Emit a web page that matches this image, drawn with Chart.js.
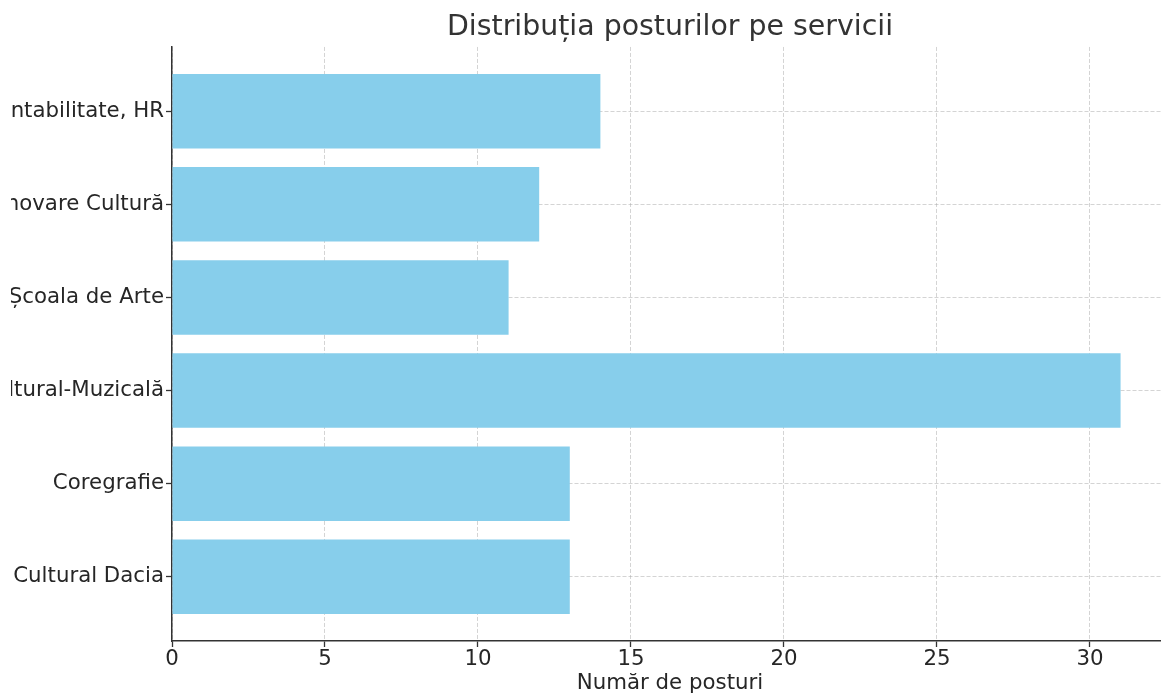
<!DOCTYPE html>
<html>
<head>
<meta charset="utf-8">
<title>Distribuția posturilor pe servicii</title>
<script src="https://cdn.jsdelivr.net/npm/chart.js@4.4.1/dist/chart.umd.min.js"></script>
<style>
    html, body { margin: 0; padding: 0; background: #fff; overflow: hidden; }
    #pagina { position: relative; width: 1161px; height: 695px; overflow: hidden; }
    #cutie { position: absolute; left: 11px; top: 0; width: 1157px; height: 695px; }
</style>
</head>
<body>
<div id="pagina">
    <div id="cutie"><canvas id="grafic"></canvas></div>
</div>
<script>
// servicii de sus in jos si numarul de posturi
let servicii = ['Contabilitate, HR', 'Centrul de Inovare Cultură', 'Școala de Arte', 'Casa Cultural-Muzicală', 'Coregrafie', 'Centrul Cultural Dacia'];
let posturi = [14, 12, 11, 31, 13, 13];
let ticksX = [0, 5, 10, 15, 20, 25, 30];

let culoareText = '#262626';
let culoareAx = '#333333';
let culoareGrila = 'rgba(170, 170, 170, 0.5)';
let font = 'DejaVu Sans';

function createChart(chartId) {
    let existingChart = Chart.getChart(chartId);
    if (existingChart) {
        existingChart.destroy();
    }

    let puncte = posturi.map(function(v, i) {
        return { x: v, y: i };
    });

    let ctx = document.getElementById(chartId).getContext('2d');
    return new Chart(ctx, {
        type: 'bar',
        data: {
            datasets: [{
                label: 'Posturi',
                data: puncte,
                backgroundColor: '#87CEEB',
                borderWidth: 0,
                categoryPercentage: 1.0,
                barPercentage: 0.8
            }]
        },
        options: {
            indexAxis: 'y',
            responsive: true,
            maintainAspectRatio: false,
            animation: false,
            layout: { padding: 0 },
            plugins: {
                legend: { display: false },
                tooltip: { enabled: false },
                title: {
                    display: true,
                    text: 'Distribuția posturilor pe servicii',
                    fullSize: false,
                    color: culoareAx,
                    font: { family: font, size: 28.4, weight: 'normal' },
                    padding: { top: 11, bottom: 1.9 }
                }
            },
            scales: {
                x: {
                    type: 'linear',
                    min: 0,
                    max: 32.55,
                    z: 1,
                    afterBuildTicks: function(scale) {
                        scale.ticks = ticksX.map(function(v) { return { value: v }; });
                    },
                    afterFit: function(scale) {
                        scale.height = 54;
                    },
                    ticks: {
                        color: culoareText,
                        font: { family: font, size: 21.3 },
                        padding: 0,
                        maxRotation: 0
                    },
                    grid: {
                        color: culoareGrila,
                        lineWidth: 1,
                        tickColor: culoareAx,
                        tickWidth: 1.3,
                        tickLength: 6
                    },
                    border: { display: true, color: culoareAx, width: 1.5, dash: [4, 2] },
                    title: {
                        display: true,
                        text: 'Număr de posturi',
                        color: culoareText,
                        font: { family: font, size: 21.3 },
                        padding: { top: 0, bottom: -1 }
                    }
                },
                y: {
                    type: 'linear',
                    min: -0.69,
                    max: 5.69,
                    reverse: true,
                    offset: false,
                    z: 1,
                    afterBuildTicks: function(scale) {
                        scale.ticks = servicii.map(function(s, i) { return { value: i }; });
                    },
                    afterFit: function(scale) {
                        scale.width = 161;
                    },
                    ticks: {
                        color: culoareText,
                        font: { family: font, size: 21.3 },
                        padding: 2,
                        callback: function(v) { return servicii[v]; }
                    },
                    grid: {
                        offset: false,
                        color: culoareGrila,
                        lineWidth: 1,
                        tickColor: culoareAx,
                        tickWidth: 1.3,
                        tickLength: 6
                    },
                    border: { display: true, color: culoareAx, width: 1.5, dash: [4, 2] }
                }
            }
        }
    });
}

createChart('grafic');
</script>
</body>
</html>
